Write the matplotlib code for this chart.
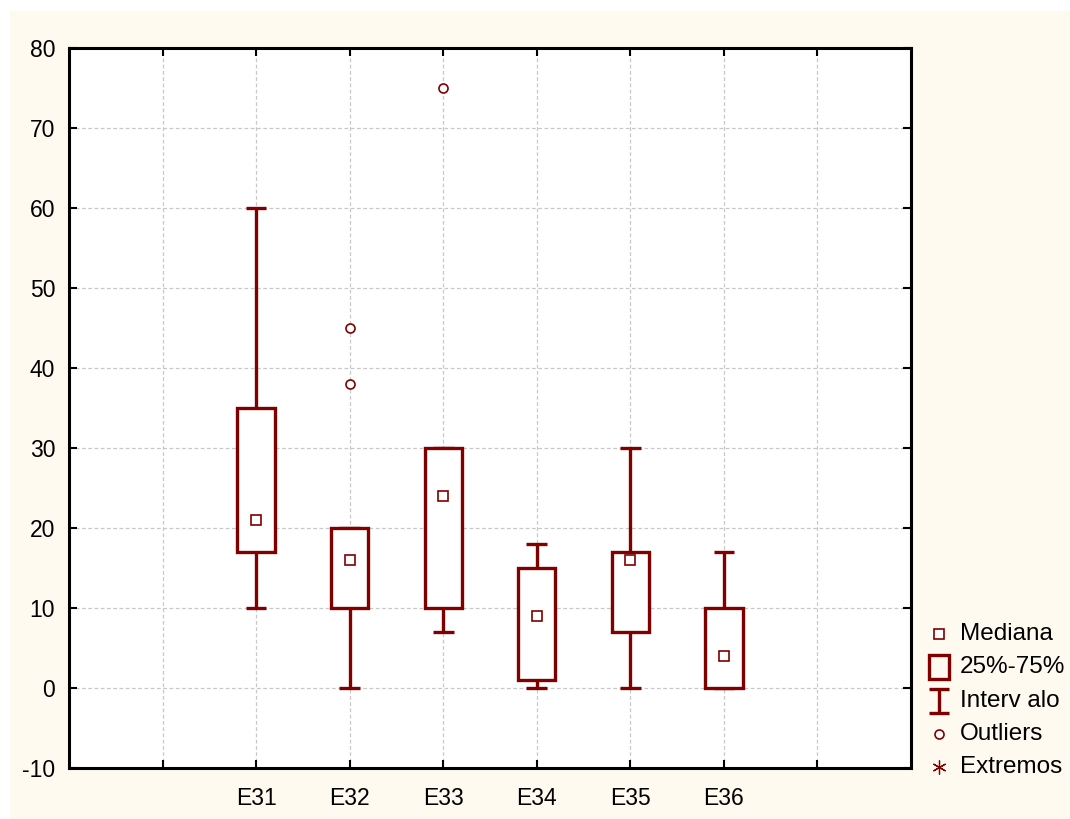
import matplotlib
matplotlib.use("Agg")
import matplotlib.pyplot as plt
from matplotlib.patches import Rectangle

plt.rcParams['font.family'] = ['Liberation Sans', 'DejaVu Sans']
plt.rcParams['axes.unicode_minus'] = False

# Box-plot summary for each item
categories = ["E31", "E32", "E33", "E34", "E35", "E36"]
medians = [21, 16, 24, 9, 16, 4]
q1 = [17, 10, 10, 1, 7, 0]
q3 = [35, 20, 30, 15, 17, 10]
whisker_low = [10, 0, 7, 0, 0, 0]
whisker_high = [60, 20, 30, 18, 30, 17]
outliers = [[], [38, 45], [75], [], [], []]

y_ticks = [-10, 0, 10, 20, 30, 40, 50, 60, 70, 80]
legend_labels = ["Mediana", "25%-75%", "Interv alo", "Outliers", "Extremos"]

RED = "#800000"
CREAM = "#FEFAEF"

W, H = 1070, 819
fig = plt.figure(figsize=(W / 100, H / 100), dpi=100)
fig.patch.set_facecolor("white")
fig.patches.append(Rectangle((10 / W, 0), 1, (H - 11) / H,
                             transform=fig.transFigure, facecolor=CREAM,
                             edgecolor="none", zorder=-10))

ax = fig.add_axes([69 / W, (H - 768) / H, (911 - 69) / W, (768 - 48) / H])
ax.set_facecolor("white")

positions = list(range(2, 2 + len(categories)))
box_w = 0.40
cap_w = 0.22
lw = 2.4

for x, med, lo, hi, wl, wh, outs in zip(positions, medians, q1, q3,
                                         whisker_low, whisker_high, outliers):
    # whiskers and caps
    if wh > hi:
        ax.plot([x, x], [hi, wh], color=RED, lw=lw, zorder=3, solid_capstyle="butt")
    ax.plot([x - cap_w / 2, x + cap_w / 2], [wh, wh], color=RED, lw=lw, zorder=3,
            solid_capstyle="butt")
    if wl < lo:
        ax.plot([x, x], [wl, lo], color=RED, lw=lw, zorder=3, solid_capstyle="butt")
    ax.plot([x - cap_w / 2, x + cap_w / 2], [wl, wl], color=RED, lw=lw, zorder=3,
            solid_capstyle="butt")
    # interquartile box
    ax.add_patch(Rectangle((x - box_w / 2, lo), box_w, hi - lo, facecolor="white",
                           edgecolor=RED, lw=lw, zorder=4))
    # median
    ax.plot([x], [med], marker="s", ms=7.5, mfc="white", mec=RED, mew=1.2, zorder=5)
    # outliers
    if outs:
        ax.plot([x] * len(outs), outs, linestyle="none", marker="o", ms=6.5,
                mfc="white", mec=RED, mew=1.2, zorder=5)

ax.set_xlim(0, 9)
ax.set_ylim(-10, 80)
ax.set_yticks(y_ticks)
ax.set_xticks(range(1, 9))
ax.set_xticklabels([""] + categories + [""])
ax.tick_params(axis="both", direction="in", length=6, width=1.5,
               top=True, right=True, labelsize=16.5, colors="black")
ax.tick_params(axis="y", pad=10)
ax.tick_params(axis="x", pad=14)
ax.grid(True, color="#c8c8c8", linestyle=(0, (3, 2)), lw=0.9)
ax.set_axisbelow(True)
for sp in ax.spines.values():
    sp.set_linewidth(2.2)
    sp.set_color("black")

# Legend drawn on a pixel-coordinate overlay
lg = fig.add_axes([0, 0, 1, 1], facecolor="none")
lg.set_xlim(0, W)
lg.set_ylim(H, 0)
lg.axis("off")

mx, tx = 939, 960
rows = [634, 667, 701, 734, 767]
lg.plot([mx], [rows[0]], marker="s", ms=7.5, mfc="white", mec=RED, mew=1.2)
lg.add_patch(Rectangle((mx - 10, rows[1] - 12), 20, 24, facecolor="none",
                       edgecolor=RED, lw=lw))
lg.plot([mx - 10, mx + 10], [rows[2] - 12, rows[2] - 12], color=RED, lw=lw,
        solid_capstyle="butt")
lg.plot([mx, mx], [rows[2] - 12, rows[2] + 12], color=RED, lw=lw,
        solid_capstyle="butt")
lg.plot([mx - 10, mx + 10], [rows[2] + 12, rows[2] + 12], color=RED, lw=lw,
        solid_capstyle="butt")
lg.plot([mx], [rows[3]], marker="o", ms=6.5, mfc="white", mec=RED, mew=1.2)
lg.plot([mx], [rows[4]], marker=(6, 2, 0), ms=10, mec=RED, mew=0.9)
for y, label in zip(rows, legend_labels):
    lg.text(tx, y, label, fontsize=17.5, va="center", ha="left", color="black")

fig.savefig("out.png", dpi=100, facecolor=fig.get_facecolor())
